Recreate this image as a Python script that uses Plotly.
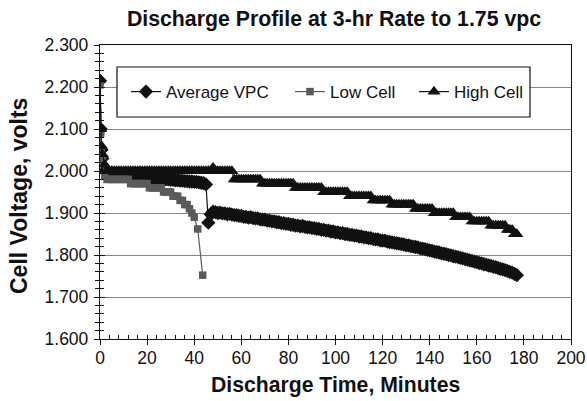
import plotly.graph_objects as go

# ---------------- data ----------------
TIME_MAIN = [0, 0.3, 0.6, 1] + list(range(2, 178))

AVERAGE_VPC = [
    2.215, 2.100, 2.050, 2.030,
    2.000, 1.996, 1.994, 1.993, 1.992, 1.993, 1.991, 1.990, 1.991, 1.990,
    1.989, 1.990, 1.988, 1.987, 1.988, 1.986, 1.986, 1.985, 1.986, 1.984,
    1.984, 1.983, 1.984, 1.982, 1.982, 1.981, 1.980, 1.980, 1.979, 1.979,
    1.978, 1.978, 1.977, 1.977, 1.976, 1.976, 1.975, 1.975, 1.974, 1.974,
    1.973, 1.972, 1.971, 1.968,
    1.877, 1.897, 1.903, 1.902, 1.900, 1.901, 1.899, 1.899, 1.897, 1.898,
    1.896, 1.895, 1.895, 1.893, 1.893, 1.891, 1.891, 1.889, 1.890, 1.888,
    1.887, 1.887, 1.885, 1.884, 1.884, 1.882, 1.882, 1.880, 1.880, 1.878,
    1.878, 1.876, 1.876, 1.874, 1.874, 1.872, 1.872, 1.870, 1.870, 1.868,
    1.869, 1.867, 1.866, 1.866, 1.864, 1.864, 1.862, 1.862, 1.860, 1.860,
    1.858, 1.858, 1.856, 1.856, 1.854, 1.854, 1.852, 1.852, 1.850, 1.850,
    1.848, 1.848, 1.846, 1.846, 1.844, 1.844, 1.842, 1.842, 1.840, 1.840,
    1.838, 1.837, 1.837, 1.835, 1.834, 1.834, 1.832, 1.831, 1.830, 1.829,
    1.828, 1.827, 1.826, 1.825, 1.823, 1.823, 1.821, 1.820, 1.819, 1.818,
    1.816, 1.815, 1.814, 1.812, 1.811, 1.810, 1.808, 1.807, 1.806, 1.804,
    1.803, 1.802, 1.800, 1.799, 1.797, 1.796, 1.795, 1.793, 1.792, 1.790,
    1.789, 1.787, 1.786, 1.784, 1.783, 1.781, 1.780, 1.778, 1.777, 1.775,
    1.774, 1.772, 1.771, 1.769, 1.767, 1.766, 1.764, 1.762, 1.760, 1.758,
    1.755, 1.752,
]

HIGH_CELL = [
    2.218, 2.100, 2.060, 2.040,
    2.015,
    2.000, 2.000, 2.000, 2.000, 2.000, 2.000, 2.000, 2.000, 2.000, 2.000,
    2.000, 2.000, 2.000, 2.000, 2.000, 2.000, 2.000, 2.000, 2.000, 2.000,
    2.000, 2.000, 2.000, 2.000, 2.000, 2.000, 2.000, 2.000, 2.000, 2.000,
    2.000, 2.000, 2.000, 2.000, 2.000, 2.000, 2.000, 2.000, 2.000, 2.000,
    2.000, 2.000, 2.000, 2.000, 2.000, 2.008, 2.000, 2.000, 2.000, 2.000,
    2.000, 2.000, 2.000, 2.000,
    1.980, 1.980, 1.980, 1.980, 1.980, 1.980, 1.980, 1.980, 1.980, 1.980,
    1.980, 1.980,
    1.970, 1.970, 1.970, 1.970, 1.970, 1.970, 1.970, 1.970, 1.970, 1.970,
    1.970, 1.970, 1.970, 1.970,
    1.960, 1.960, 1.960, 1.960, 1.960, 1.960, 1.960, 1.960, 1.960, 1.960,
    1.960, 1.960,
    1.950, 1.950, 1.950, 1.950, 1.950, 1.950, 1.950, 1.950, 1.950, 1.950,
    1.950,
    1.940, 1.940, 1.940, 1.940, 1.940, 1.940, 1.940, 1.940, 1.940, 1.940,
    1.930, 1.930, 1.930, 1.930, 1.930, 1.930, 1.930, 1.930,
    1.920, 1.920, 1.920, 1.920, 1.920, 1.920, 1.920, 1.920, 1.920, 1.920,
    1.910, 1.910, 1.910, 1.910, 1.910, 1.910, 1.910, 1.910,
    1.900, 1.900, 1.900, 1.900, 1.900, 1.900, 1.900, 1.900, 1.900,
    1.890, 1.890, 1.890, 1.890, 1.890, 1.890, 1.890,
    1.880, 1.880, 1.880, 1.880, 1.880, 1.880, 1.880, 1.880,
    1.870, 1.870, 1.870, 1.870, 1.870, 1.870, 1.870,
    1.860, 1.860, 1.860,
    1.850, 1.850,
]

TIME_LOW = [0, 0.3, 0.6, 1, 2, 3, 4, 5, 6, 7, 8, 9, 10, 11, 12, 13, 14, 15,
            16, 17, 18, 19, 20, 21, 22, 23, 24, 25, 26, 27, 28, 29, 30, 31,
            32, 33, 34, 35, 36, 37, 38, 39, 40, 41.5, 43.6]
LOW_CELL = [
    2.205, 2.090, 2.045, 2.030,
    1.990,
    1.980, 1.980, 1.980, 1.980, 1.980, 1.980, 1.980, 1.980, 1.980, 1.980,
    1.970, 1.970, 1.970, 1.970, 1.970, 1.970, 1.970, 1.970,
    1.960, 1.960, 1.960, 1.960, 1.960, 1.960,
    1.950, 1.950, 1.950, 1.950,
    1.940, 1.940, 1.940,
    1.930, 1.930,
    1.920, 1.920,
    1.910, 1.900, 1.890, 1.862, 1.752,
]

SERIES_NAMES = ["Average VPC", "Low Cell", "High Cell"]
TITLE = "Discharge Profile at 3-hr Rate to 1.75 vpc"
X_TITLE = "Discharge Time, Minutes"
Y_TITLE = "Cell Voltage, volts"

# ---------------- styling ----------------
FONT = "Liberation Sans, Arial, sans-serif"
BLACK = "#111111"
GRAY = "#5a5a5a"

fig = go.Figure()
fig.add_trace(go.Scatter(
    x=TIME_MAIN, y=AVERAGE_VPC, name=SERIES_NAMES[0], mode="lines+markers",
    line=dict(color=BLACK, width=1.2), legend="legend",
    marker=dict(symbol="diamond", size=11, color=BLACK),
))
fig.add_trace(go.Scatter(
    x=TIME_LOW, y=LOW_CELL, name=SERIES_NAMES[1], mode="lines+markers",
    line=dict(color=GRAY, width=1.2), legend="legend2",
    marker=dict(symbol="square", size=7.5, color=GRAY),
))
fig.add_trace(go.Scatter(
    x=TIME_MAIN, y=HIGH_CELL, name=SERIES_NAMES[2], mode="lines+markers",
    line=dict(color=BLACK, width=1.2), legend="legend3",
    marker=dict(symbol="triangle-up", size=11.5, color=BLACK),
))
# helper (empty) trace so the overlay axes used for crossing ticks are drawn
fig.add_trace(go.Scatter(x=[], y=[], xaxis="x2", yaxis="y2", showlegend=False,
                         hoverinfo="skip"))

XR = [0, 200]
YR = [1.6, 2.3]


def legend_at(px):
    return dict(orientation="h", x=(px - 100) / 471, y=0.84, xanchor="left",
                yanchor="middle", bgcolor="rgba(0,0,0,0)", borderwidth=0,
                font=dict(size=17, family=FONT), itemwidth=30)


fig.update_layout(
    width=587, height=401, autosize=False,
    margin=dict(l=100, r=16, t=45, b=62, autoexpand=False),
    paper_bgcolor="white", plot_bgcolor="white",
    font=dict(family=FONT, color=BLACK, size=17),
    title=dict(text="<b>" + TITLE + "</b>", x=(334 - 100) / 471, xref="paper",
               xanchor="center",
               y=1 - 19 / 401, yanchor="middle", font=dict(size=21.3, family=FONT)),
    showlegend=True,
    legend=legend_at(126),
    legend2=legend_at(290),
    legend3=legend_at(414),
    xaxis=dict(range=XR, dtick=20, tick0=0, showgrid=False, zeroline=False,
               automargin=False,
               showline=True, linecolor=BLACK, linewidth=1.3, mirror=True,
               ticks="inside", ticklen=4, tickcolor=BLACK, tickwidth=1.2,
               minor=dict(ticks="inside", dtick=4, ticklen=3.5, tickcolor=BLACK,
                          tickwidth=1.1, showgrid=False),
               tickfont=dict(size=17.5), ticklabelstandoff=3),
    xaxis2=dict(range=XR, overlaying="x", anchor="y", side="bottom", dtick=20, tick0=0,
                showgrid=False, zeroline=False, showline=False, automargin=False,
                ticks="outside", ticklen=5, tickcolor=BLACK, tickwidth=1.2,
                showticklabels=False),
    yaxis=dict(range=YR, dtick=0.1, tick0=1.6, tickformat=".3f",
               showgrid=True, gridcolor="#858585", gridwidth=1.1, zeroline=False,
               automargin=False,
               showline=True, linecolor=BLACK, linewidth=1.3, mirror=True,
               ticks="outside", ticklen=5, tickcolor=BLACK, tickwidth=1.2,
               minor=dict(ticks="outside", dtick=0.02, ticklen=3.5, tickcolor=BLACK,
                          tickwidth=1.1, showgrid=False),
               tickfont=dict(size=17.5), ticklabelstandoff=2),
    yaxis2=dict(range=YR, overlaying="y", anchor="x", side="left", dtick=0.1, tick0=1.6,
                showgrid=False, zeroline=False, showline=False, automargin=False,
                ticks="inside", ticklen=5, tickcolor=BLACK, tickwidth=1.2,
                minor=dict(ticks="inside", dtick=0.02, ticklen=3.5, tickcolor=BLACK,
                           tickwidth=1.1, showgrid=False),
                showticklabels=False),
    shapes=[dict(type="rect", xref="paper", yref="paper",
                 x0=(117 - 100) / 471, x1=(530 - 100) / 471,
                 y0=1 - (117 - 45) / 294, y1=1 - (67 - 45) / 294,
                 line=dict(color=BLACK, width=1.2), fillcolor="white", layer="above")],
    annotations=[
        dict(text="<b>" + X_TITLE + "</b>", xref="paper", yref="paper",
             x=(335 - 100) / 471, y=(339 - 385) / 294, xanchor="center", yanchor="middle",
             showarrow=False, font=dict(size=21.2, family=FONT)),
        dict(text="<b>" + Y_TITLE + "</b>", xref="paper", yref="paper",
             x=(19 - 100) / 471, y=1 - (196 - 45) / 294, xanchor="center",
             yanchor="middle",
             textangle=-90, showarrow=False, font=dict(size=23, family=FONT)),
    ],
)

fig.write_html("out.html", config={"displayModeBar": False},
               post_script="document.body.style.margin='0px';")
